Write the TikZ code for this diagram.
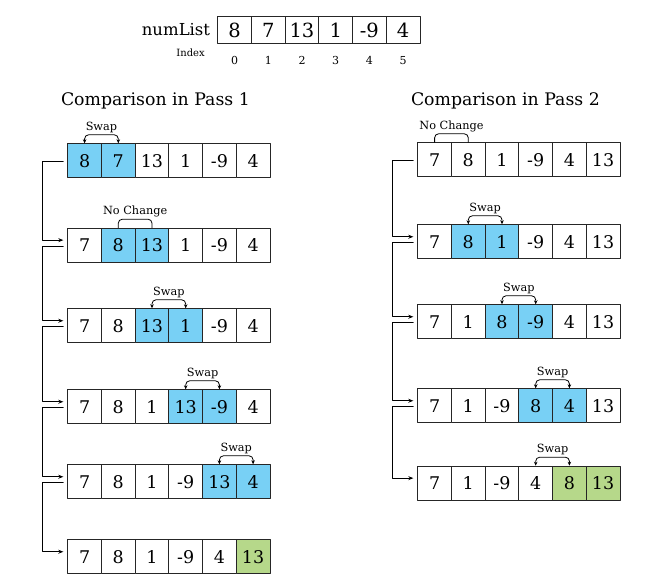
\documentclass[tikz,border=0pt]{standalone}
\usepackage{fontspec}
\setmainfont{DejaVu Serif}
\usetikzlibrary{arrows.meta}

\definecolor{swapblue}{RGB}{120,208,245}
\definecolor{donegreen}{RGB}{182,216,138}

\tikzset{
  cell/.style={draw=black!85, line width=0.9pt, minimum width=33.7pt, minimum height=34pt,
    inner sep=0pt, anchor=north west, font=\fontsize{17.5}{17.5}\selectfont},
  headcell/.style={cell, minimum height=27.7pt, font=\fontsize{19.5}{19.5}\selectfont},
  bracket/.style={line width=0.8pt, rounded corners=4pt},
  conn/.style={line width=0.8pt, -{Stealth[length=5pt,width=4pt]}},
  tag/.style={font=\fontsize{11.3}{11.3}\selectfont, inner sep=1pt},
}

% one row of six cells: name, left x, top y, value/colour list
\newcommand{\cellrow}[4]{
  \foreach \v/\c [count=\i from 0] in {#4}
    \node[cell, fill=\c] (#1-c\i) at ({#2+\i*33.7}, #3) {\v};
}
% bracket over two cells: first, second, text, tips
\newcommand{\pairmark}[4]{
  \draw[bracket, #4] (#1.north) -- ([yshift=8.5pt]#1.north) -- ([yshift=8.5pt]#2.north)
    node[midway, above=0.5pt, tag] {#3} -- (#2.north);
}

\begin{document}
\begin{tikzpicture}[x=1pt, y=-1pt, line cap=round, line join=round]

\useasboundingbox (0,0) rectangle (672,582);

\def\xone{67.3}
\def\xtwo{417.3}
\def\tips{{Stealth[length=4pt,width=3.5pt]}-{Stealth[length=4pt,width=3.5pt]}}

% Header list

\foreach \v [count=\i from 0] in {8,7,13,1,-9,4} {
  \node[headcell] (num\i) at ({217.3+\i*33.7}, 15.7) {\v};
  \node[font=\fontsize{11}{11}\selectfont] (idx\i) at ([yshift=-16pt]num\i.south) {\i};
}
\node[anchor=east, inner sep=0pt, font=\fontsize{16.5}{16.5}\selectfont] (listname) at ([xshift=-7pt]num0.west) {numList};
\node[anchor=east, inner sep=0pt, font=\fontsize{10}{10}\selectfont] (idxname) at (205,52.7) {Index};

% Pass 1

\node[font=\fontsize{17.3}{17.3}\selectfont] (title1) at (155.4,100.5) {Comparison in Pass 1};

\cellrow{p1r1}{\xone}{143.3}{8/swapblue,7/swapblue,13/white,1/white,-9/white,4/white}
\cellrow{p1r2}{\xone}{227.7}{7/white,8/swapblue,13/swapblue,1/white,-9/white,4/white}
\cellrow{p1r3}{\xone}{308.3}{7/white,8/white,13/swapblue,1/swapblue,-9/white,4/white}
\cellrow{p1r4}{\xone}{389.3}{7/white,8/white,1/white,13/swapblue,-9/swapblue,4/white}
\cellrow{p1r5}{\xone}{464.3}{7/white,8/white,1/white,-9/white,13/swapblue,4/swapblue}
\cellrow{p1r6}{\xone}{539.3}{7/white,8/white,1/white,-9/white,4/white,13/donegreen}

\pairmark{p1r1-c0}{p1r1-c1}{Swap}{\tips}
\pairmark{p1r2-c1}{p1r2-c2}{No Change}{}
\pairmark{p1r3-c2}{p1r3-c3}{Swap}{\tips}
\pairmark{p1r4-c3}{p1r4-c4}{Swap}{\tips}
\pairmark{p1r5-c4}{p1r5-c5}{Swap}{\tips}

\foreach \r/\n in {1/2,2/3,3/4,4/5,5/6}
  \draw[conn] ([xshift=-4pt,yshift=-1pt]p1r\r-c0.west) -- ++(-21,0) |- ([xshift=-4pt,yshift=5pt]p1r\n-c0.west);

% Pass 2

\node[font=\fontsize{17.3}{17.3}\selectfont] (title2) at (505.4,100.5) {Comparison in Pass 2};

\cellrow{p2r1}{\xtwo}{142.3}{7/white,8/white,1/white,-9/white,4/white,13/white}
\cellrow{p2r2}{\xtwo}{224.3}{7/white,8/swapblue,1/swapblue,-9/white,4/white,13/white}
\cellrow{p2r3}{\xtwo}{304.3}{7/white,1/white,8/swapblue,-9/swapblue,4/white,13/white}
\cellrow{p2r4}{\xtwo}{388.3}{7/white,1/white,-9/white,8/swapblue,4/swapblue,13/white}
\cellrow{p2r5}{\xtwo}{465.7}{7/white,1/white,-9/white,4/white,8/donegreen,13/donegreen}

\pairmark{p2r1-c0}{p2r1-c1}{No Change}{}
\pairmark{p2r2-c1}{p2r2-c2}{Swap}{\tips}
\pairmark{p2r3-c2}{p2r3-c3}{Swap}{\tips}
\pairmark{p2r4-c3}{p2r4-c4}{Swap}{\tips}
\pairmark{p2r5-c3}{p2r5-c4}{Swap}{\tips}

\foreach \r/\n in {1/2,2/3,3/4,4/5}
  \draw[conn] ([xshift=-4pt,yshift=-1pt]p2r\r-c0.west) -- ++(-20.6,0) |- ([xshift=-4pt,yshift=5pt]p2r\n-c0.west);

\end{tikzpicture}
\end{document}
